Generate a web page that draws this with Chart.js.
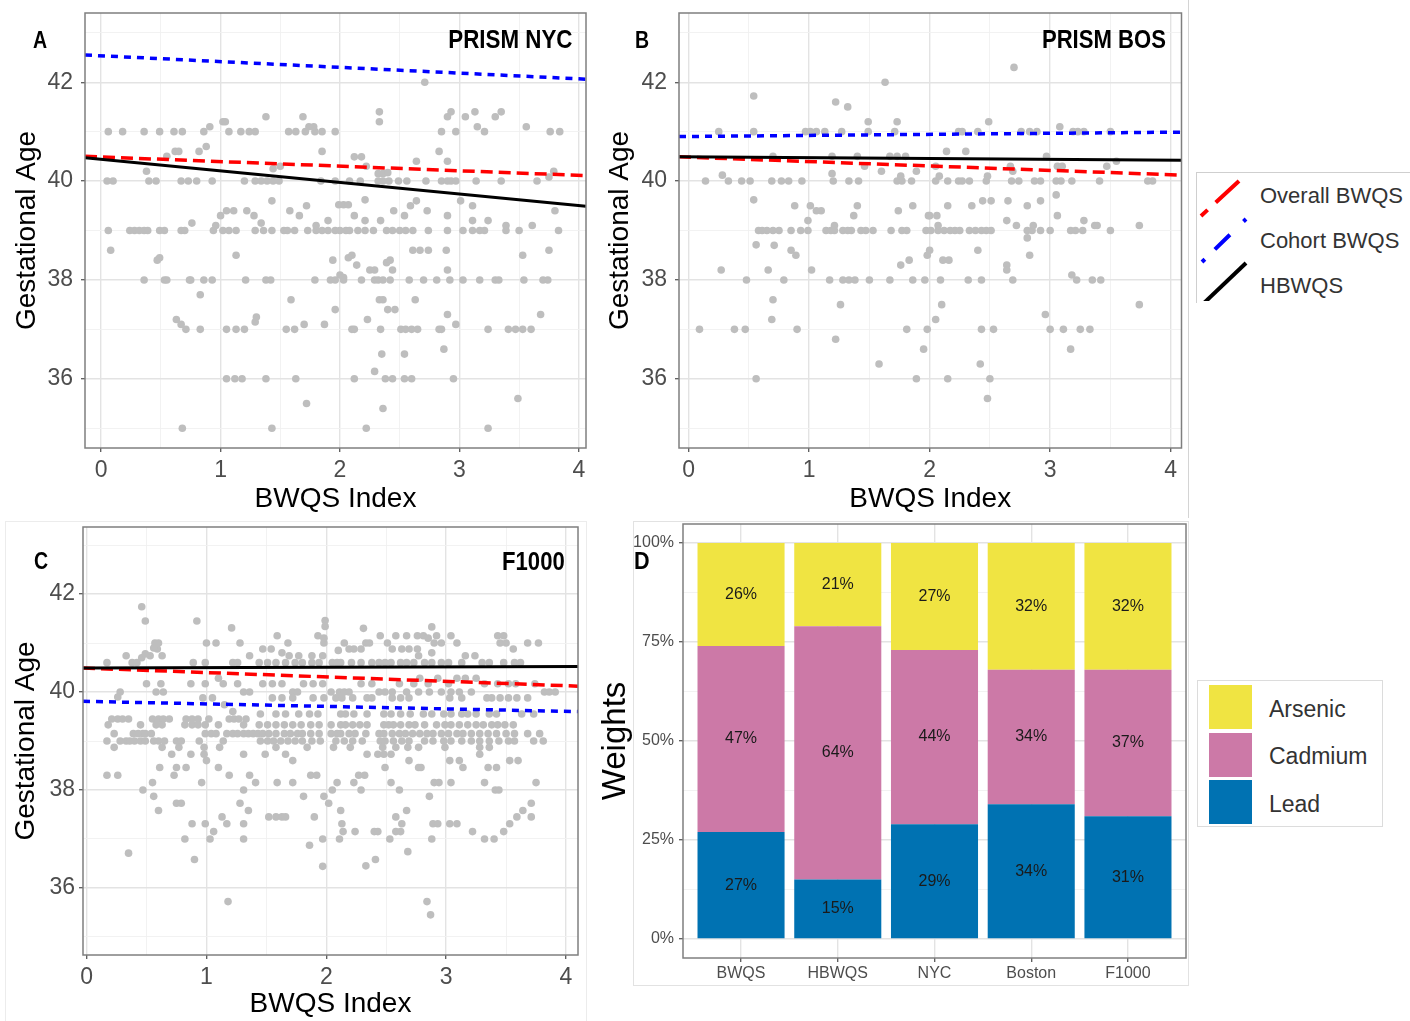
<!DOCTYPE html>
<html><head><meta charset="utf-8">
<script src="https://cdn.jsdelivr.net/npm/chart.js@4.4.1/dist/chart.umd.min.js"></script>
<style>
html,body{margin:0;padding:0;background:#fff;}
body{width:1410px;height:1021px;overflow:hidden;position:relative;font-family:'Liberation Sans',Arial,sans-serif;}
canvas{position:absolute;}
.t{position:absolute;white-space:nowrap;line-height:1;}
.bn{font-weight:bold;color:#000;}
.lg{position:absolute;color:#333;white-space:nowrap;line-height:1;}
</style></head><body>

<div style="position:absolute;left:1188px;top:0;width:1px;height:518px;background:#d4d4d4"></div>
<div style="position:absolute;left:5px;top:521px;width:580px;height:510px;border:1px solid #ececec;border-bottom:none"></div>
<div style="position:absolute;left:633px;top:521px;width:554px;height:463px;border:1px solid #e2e2e2"></div>

<canvas id="cA" width="590" height="520" style="left:0;top:0;width:590px;height:520px"></canvas>
<canvas id="cB" width="600" height="520" style="left:590px;top:0;width:600px;height:520px"></canvas>
<canvas id="cC" width="590" height="501" style="left:0;top:520px;width:590px;height:501px"></canvas>
<canvas id="cD" width="600" height="470" style="left:596px;top:521px;width:600px;height:470px"></canvas>

<div class="t bn" style="left:33px;top:29px;font-size:23px;transform:scaleX(0.85);transform-origin:left center">A</div>
<div class="t bn" style="right:838px;top:26px;font-size:26px;transform:scaleX(0.86);transform-origin:right center">PRISM NYC</div>
<div class="t bn" style="left:635px;top:29px;font-size:23px;transform:scaleX(0.85);transform-origin:left center">B</div>
<div class="t bn" style="right:244px;top:26px;font-size:26px;transform:scaleX(0.85);transform-origin:right center">PRISM BOS</div>
<div class="t bn" style="left:34px;top:550px;font-size:23px;transform:scaleX(0.85);transform-origin:left center">C</div>
<div class="t bn" style="right:845px;top:548px;font-size:26px;transform:scaleX(0.85);transform-origin:right center">F1000</div>
<div class="t bn" style="left:634px;top:549px;font-size:24px;transform:scaleX(0.9);transform-origin:left center">D</div>

<div style="position:absolute;left:1196px;top:172px;width:230px;height:130px;border-left:1px solid #cfcfcf;border-top:1px solid #cfcfcf;overflow:hidden">
<svg width="230" height="128" style="position:absolute;left:0;top:0">
<line x1="4" y1="43" x2="42" y2="8" stroke="#FF0000" stroke-width="4" stroke-dasharray="9 11 32 40"/>
<line x1="5" y1="89" x2="49" y2="46" stroke="#0000FF" stroke-width="4" stroke-dasharray="4 14 21 19 5 30"/>
<line x1="7" y1="130" x2="49" y2="90" stroke="#000000" stroke-width="4"/>
</svg>
</div>
<div class="lg" style="left:1260px;top:185px;font-size:22px">Overall BWQS</div>
<div class="lg" style="left:1260px;top:230px;font-size:22px">Cohort BWQS</div>
<div class="lg" style="left:1260px;top:275px;font-size:22px">HBWQS</div>

<div style="position:absolute;left:1197px;top:680px;width:184px;height:145px;border:1px solid #dcdcdc"></div>
<div style="position:absolute;left:1209px;top:685px;width:43px;height:44px;background:#F0E442"></div>
<div style="position:absolute;left:1209px;top:733px;width:43px;height:44px;background:#CC79A7"></div>
<div style="position:absolute;left:1209px;top:780px;width:43px;height:44px;background:#0072B2"></div>
<div class="lg" style="left:1269px;top:698px;font-size:23px">Arsenic</div>
<div class="lg" style="left:1269px;top:745px;font-size:23px">Cadmium</div>
<div class="lg" style="left:1269px;top:793px;font-size:23px">Lead</div>

<script>
// ---------------- DATA ----------------
const xTickValues = [0, 1, 2, 3, 4];
const xMinorTicks = [0.5, 1.5, 2.5, 3.5];
const gaTickValues = [36, 38, 40, 42];
const gaMinorTicks = [35, 37, 39, 41, 43];

// Panel A: PRISM NYC  (rows: [gestational age, [BWQS index values]])
const nycRows = [
  [41.0, [0.06,0.18,0.36,0.49,0.61,0.68,0.86,1.07,1.17,1.24,1.29,1.57,1.63,1.71,1.79,1.85,1.96,2.85,2.97,3.21,3.76,3.84]],
  [40.0, [0.05,0.1,0.4,0.46,0.67,0.73,0.8,0.93,1.2,1.29,1.34,1.39,1.44,1.49,1.84,1.96,2.08,2.17,2.32,2.36,2.41,2.49,2.56,2.72,2.85,2.90,2.93,2.97,3.14,3.35,3.65]],
  [39.0, [0.06,0.24,0.28,0.32,0.36,0.39,0.49,0.53,0.67,0.7,0.94,1.02,1.07,1.13,1.29,1.36,1.43,1.53,1.56,1.62,1.73,1.8,1.85,1.9,1.96,2.0,2.05,2.08,2.15,2.21,2.28,2.39,2.44,2.50,2.55,2.61,2.74,2.90,3.03,3.11,3.17,3.21,3.39,3.50,3.83]],
  [38.0, [0.36,0.53,0.55,0.74,0.75,0.86,0.93,1.21,1.38,1.42,1.79,1.92,1.96,2.03,2.18,2.29,2.32,2.36,2.42,2.58,2.70,2.81,2.92,3.03,3.17,3.30,3.33,3.54,3.70,3.74]],
  [37.0, [0.71,0.83,1.05,1.13,1.2,1.55,1.62,2.10,2.12,2.34,2.51,2.55,2.60,2.65,2.83,2.85,3.24,3.41,3.47,3.53,3.60]],
  [36.0, [1.05,1.12,1.18,1.38,1.63,2.12,2.38,2.44,2.54,2.60,2.95]],
  [35.0, [0.68,1.43,2.22,3.24]]
];
const nycSingles = [
  [0.91,41.1],[1.02,41.2],[1.04,41.2],[1.38,41.3],[1.69,41.3],[1.74,41.1],[1.78,41.1],[1.85,40.6],[0.62,40.6],[0.65,40.6],
  [0.82,40.6],[0.88,40.7],[0.55,40.5],[0.38,40.2],[1.44,40.25],[1.5,40.3],[2.71,42.0],[2.33,41.4],[2.33,41.2],[2.90,41.3],
  [2.93,41.4],[3.05,41.3],[3.13,41.4],[3.15,41.1],[3.30,41.3],[3.35,41.4],[3.56,41.1],[2.12,40.49],[2.18,40.49],[2.22,40.3],
  [2.32,40.15],[2.36,40.15],[2.40,40.17],[2.64,40.4],[2.83,40.6],[2.90,40.4],[3.79,40.2],[3.75,40.08],
  [1.43,39.6],[1.0,39.3],[1.05,39.4],[1.11,39.4],[1.22,39.4],[1.28,39.3],[1.34,39.15],[1.58,39.4],[1.66,39.3],[1.72,39.5],
  [0.76,39.15],[0.96,39.1],[1.8,39.1],[1.9,39.2],[1.99,39.52],[2.03,39.52],[2.07,39.52],[2.21,39.62],[2.45,39.4],[2.54,39.3],
  [2.59,39.5],[2.64,39.6],[2.73,39.4],[2.90,39.3],[3.01,39.6],[3.11,39.5],[3.11,39.2],[3.24,39.2],[3.80,39.4],[2.12,39.3],
  [2.21,39.2],[2.34,39.2],[3.39,39.1],[3.61,39.1],
  [0.08,38.6],[0.47,38.4],[0.49,38.45],[1.13,38.5],[2.61,38.6],[2.67,38.6],[2.74,38.6],[2.89,38.6],[3.53,38.5],[3.75,38.6],
  [1.94,38.4],[2.07,38.45],[2.10,38.5],[2.14,38.3],[2.25,38.2],[2.29,38.2],[2.39,38.35],[2.42,38.4],[2.44,38.2],[2.90,38.2],
  [2.0,38.1],[2.03,38.05],
  [0.83,37.7],[1.59,37.6],[1.96,37.4],[2.33,37.6],[2.36,37.6],[2.40,37.4],[2.46,37.4],[2.63,37.6],[2.90,37.3],[2.97,37.1],
  [2.23,37.2],[3.68,37.3],[0.63,37.2],[0.67,37.1],[1.29,37.15],[1.3,37.25],[1.7,37.1],[1.87,37.1],
  [2.87,36.6],[2.35,36.5],[2.54,36.5],[2.29,36.15],[1.72,35.5],[2.36,35.4],[3.49,35.6]
];
const nycOverall = [[-0.135, 40.50], [4.06, 40.11]];
const nycCohort  = [[-0.135, 42.55], [4.06, 42.06]];
const nycHbwqs   = [[-0.135, 40.47], [4.06, 39.49]];

// Panel B: PRISM BOS
const bosRows = [
  [41.0, [0.25,0.54,0.97,1.01,1.06,1.13,1.27,1.49,1.71,2.24,2.27,2.4,2.76,2.83,2.89,3.19,3.23,3.28,3.5]],
  [40.0, [0.14,0.33,0.44,0.51,0.69,0.77,0.83,0.94,1.2,1.33,1.41,1.73,1.77,1.85,2.05,2.15,2.24,2.27,2.33,2.47,2.68,2.74,2.87,2.92,3.05,3.09,3.18,3.41,3.81,3.85]],
  [39.0, [0.58,0.61,0.65,0.7,0.75,0.85,0.93,0.99,1.14,1.18,1.21,1.28,1.32,1.35,1.43,1.47,1.53,1.68,1.77,1.81,1.97,2.01,2.07,2.12,2.17,2.21,2.25,2.33,2.38,2.43,2.47,2.51,2.81,2.85,2.92,3.0,3.17,3.21,3.27,3.5]],
  [38.0, [0.48,0.79,1.17,1.28,1.33,1.38,1.5,1.67,1.86,1.96,2.09,2.32,2.43,2.69,3.22,3.35,3.42]],
  [37.0, [0.09,0.38,0.47,0.9,1.81,1.98,2.43,2.53,3.0,3.11,3.25,3.33]],
  [36.0, [0.56,1.89,2.15,2.5]]
];
const bosSingles = [
  [1.63,42.0],[0.54,41.72],[1.22,41.6],[1.32,41.5],[2.7,42.3],[2.49,41.2],[3.08,41.1],[1.49,41.2],[1.73,41.2],
  [0.7,40.5],[1.19,40.5],[1.4,40.5],[1.67,40.5],[1.73,40.5],[1.8,40.5],[1.46,40.3],[1.6,40.2],[1.89,40.2],[0.28,40.12],
  [1.19,40.15],[1.76,40.1],[2.14,40.6],[2.3,40.6],[2.05,40.3],[2.08,40.1],[2.67,40.3],[2.69,40.2],[2.97,40.5],[3.06,40.3],
  [3.1,40.3],[3.47,40.3],[3.55,40.4],[2.48,40.1],
  [0.54,39.62],[0.88,39.5],[1.01,39.5],[1.06,39.4],[1.1,39.4],[0.99,39.2],[1.37,39.3],[1.4,39.5],[1.74,39.4],[1.86,39.5],
  [1.99,39.3],[3.05,39.72],[2.15,39.5],[2.35,39.5],[2.44,39.6],[2.51,39.6],[2.65,39.6],[2.81,39.5],[2.92,39.6],[2.0,39.3],
  [2.06,39.3],[3.06,39.3],[2.64,39.2],[2.72,39.1],[2.86,39.1],[3.28,39.2],[3.37,39.1],[3.39,39.1],[3.74,39.1],[1.21,39.1],[2.07,39.1],
  [2.81,38.85],[0.56,38.71],[0.71,38.7],[0.85,38.6],[0.89,38.5],[0.27,38.2],[0.66,38.2],[1.02,38.2],[1.76,38.3],[1.83,38.4],
  [1.98,38.5],[2.4,38.6],[2.11,38.4],[2.16,38.4],[2.0,38.6],[2.83,38.5],[2.64,38.3],[2.64,38.2],[3.18,38.1],
  [0.7,37.6],[1.26,37.5],[0.69,37.2],[2.1,37.5],[3.74,37.5],[2.05,37.2],[2.96,37.3],
  [1.22,36.8],[1.58,36.3],[1.95,36.6],[3.17,36.6],[2.42,36.3],[2.48,35.6]
];
const bosOverall = [[-0.08, 40.49], [4.09, 40.12]];
const bosCohort  = [[-0.08, 40.90], [4.09, 40.99]];
const bosHbwqs   = [[-0.08, 40.49], [4.09, 40.42]];

// Panel C: F1000
const f1000Rows = [
  [41.0, [0.57,0.6,1.0,1.08,1.28,1.68,1.98,2.15,2.33,2.36,2.51,2.90,2.96,3.09,3.45,3.50,3.68,3.77]],
  [41.15, [1.59,1.93,2.45,2.58,2.67,2.76,2.81,2.92,3.04,3.43,3.48]],
  [40.88, [0.59,1.47,1.54,2.19,2.23,2.29,2.55,2.63,2.69,2.76,3.56]],
  [40.74, [0.33,0.53,0.63,1.36,1.69,1.77,1.88,1.97,2.77,3.16,3.24]],
  [40.6, [0.17,0.38,0.42,0.89,0.99,1.22,1.26,1.44,1.51,1.58,1.66,1.74,1.8,1.88,1.94,2.05,2.09,2.12,2.21,2.29,2.38,2.44,2.49,2.54,2.62,2.67,2.73,2.82,2.88,2.96,3.02,3.13,3.3,3.36,3.48,3.57,3.62]],
  [40.28, [1.1,2.78,2.93,3.09,3.16,3.25]],
  [40.17, [0.5,0.62,0.87,0.99,1.14,1.26,1.47,1.55,1.63,1.81,1.89,1.97,2.29,2.38,2.61,2.73,2.85,3.02,3.32,3.43,3.52,3.58,3.74]],
  [40.0, [0.28,0.58,0.64,1.31,1.36,1.72,1.76,2.04,2.11,2.15,2.19,2.44,2.49,2.55,2.67,2.77,2.86,2.96,3.04,3.11,3.21,3.82,3.86,3.91]],
  [39.88, [0.97,1.05,1.55,1.63,1.72,1.89,1.98,2.08,2.13,2.22,2.34,2.38,2.55,2.62,2.69,3.03,3.13,3.34,3.38,3.45,3.52,3.59,3.68]],
  [39.55, [1.45,1.58,1.66,1.77,1.86,1.93,2.12,2.16,2.23,2.34,2.48,2.54,2.62,2.70,2.81,2.88,2.98,3.04,3.13,3.18,3.25,3.36,3.42,3.63,3.73]],
  [39.45, [0.21,0.26,0.3,0.35,0.55,0.6,0.64,0.69,0.83,0.88,0.93,1.02,1.19,1.23,1.27,1.33]],
  [39.33, [0.18,0.45,0.58,0.63,0.82,0.88,0.93,0.99,1.1,1.31,1.44,1.51,1.58,1.65,1.72,1.79,1.87,1.94,2.04,2.12,2.16,2.22,2.28,2.34,2.48,2.52,2.56,2.62,2.69,2.74,2.82,2.92,2.99,3.04,3.11,3.18,3.25,3.31,3.38,3.43,3.49,3.56]],
  [39.15, [0.23,0.39,0.43,0.47,0.49,0.54,0.99,1.04,1.08,1.17,1.22,1.26,1.31,1.35,1.39,1.43,1.47,1.52,1.58,1.65,1.70,1.76,1.80,1.87,1.94,2.04,2.09,2.12,2.19,2.24,2.33,2.44,2.48,2.55,2.61,2.66,2.72,2.78,2.84,2.89,2.96,3.02,3.09,3.14,3.21,3.28,3.35,3.42,3.50,3.57,3.68,3.78]],
  [39.0, [0.17,0.28,0.33,0.36,0.4,0.45,0.49,0.56,0.6,0.65,0.75,0.79,0.94,1.14,1.45,1.51,1.56,1.62,1.68,1.74,1.80,1.88,1.95,2.08,2.15,2.22,2.30,2.45,2.49,2.56,2.63,2.69,2.82,2.89,2.98,3.04,3.13,3.21,3.28,3.36,3.44,3.52,3.57,3.73,3.81]],
  [38.87, [0.23,0.63,0.77,0.98,1.11,1.58,1.84,2.06,2.20,2.47,2.58,2.68,2.77,2.99,3.28,3.36]],
  [38.73, [0.71,0.87,0.98,1.31,1.49,1.66,2.34,2.43,2.48,2.54,3.28]],
  [38.6, [1.0,1.72,2.69,3.03,3.11,3.53,3.60]],
  [38.46, [0.61,0.75,0.83,1.1,2.49,2.77,2.79,3.14,3.35,3.42]],
  [38.3, [0.17,0.26,0.73,1.19,1.36,1.87,1.92,2.27,2.32]],
  [38.15, [0.55,0.96,1.41,1.59,1.72,2.09,2.23,2.54,2.90,2.94,3.04,3.32,3.75]],
  [38.0, [0.47,1.31,2.05,2.29,2.61,3.41,3.44]],
  [37.87, [0.56,1.81,1.98,2.86]],
  [37.73, [0.75,0.79,1.28,2.02,3.71]],
  [37.58, [0.6,1.35,2.12,2.67,3.64]],
  [37.45, [1.13,1.52,1.58,1.63,1.66,1.90,2.58,3.59,3.71]],
  [37.31, [0.88,0.99,1.17,1.31,2.13,2.63,2.89,2.93,3.03,3.09,3.53]],
  [37.15, [1.06,2.14,2.24,2.40,2.43,2.58,2.62,3.22,3.48]],
  [37.0, [0.82,1.03,1.31,1.97,2.11,2.53,2.88,3.32,3.40]]
];
const f1000Singles = [
  [0.46,41.74],[0.49,41.45],[0.92,41.45],[1.21,41.31],[1.99,41.46],[1.99,41.34],[2.31,41.3],[2.88,41.33],[1.98,41.1],[2.85,41.1],
  [0.56,40.9],[0.46,40.7],[0.49,40.78],[2.1,40.85],[1.63,40.8],[2.88,40.8],[0.26,39.9],[1.15,39.74],[1.22,39.6],
  [1.86,36.87],[2.68,36.74],[2.41,36.58],[2.33,36.45],[1.97,36.44],[0.35,36.71],[0.9,36.58],[1.18,35.72],[2.84,35.72],[2.87,35.45]
];
const f1000Overall = [[-0.03, 40.49], [4.10, 40.12]];
const f1000Cohort  = [[-0.03, 39.81], [4.10, 39.60]];
const f1000Hbwqs   = [[-0.03, 40.49], [4.10, 40.52]];

// Panel D: weights (%)
const weightGroups   = ['BWQS', 'HBWQS', 'NYC', 'Boston', 'F1000'];
const leadWeights    = [27, 15, 29, 34, 31];
const cadmiumWeights = [47, 64, 44, 34, 37];
const arsenicWeights = [26, 21, 27, 32, 32];
const weightTicks    = [0, 25, 50, 75, 100];
const weightMinor    = [12.5, 37.5, 62.5, 87.5];

// ---------------- DRAWING ----------------
const FONT = "'Liberation Sans', Arial, sans-serif";
const MAJOR = '#E3E3E3', MINOR = '#F1F1F1', FRAME = '#7F7F7F', TICKC = '#5A5A5A';

function buildPoints(rows, singles) {
  const out = [];
  rows.forEach(r => r[1].forEach(x => out.push({x: x, y: r[0]})));
  singles.forEach(p => out.push({x: p[0], y: p[1]}));
  return out;
}
const toXY = a => a.map(p => ({x: p[0], y: p[1]}));

const framePlugin = {
  id: 'frame',
  afterDatasetsDraw(chart) {
    const {ctx, chartArea: a} = chart;
    ctx.save();
    ctx.strokeStyle = FRAME; ctx.lineWidth = 1.5;
    ctx.strokeRect(a.left, a.top, a.right - a.left, a.bottom - a.top);
    ctx.restore();
  }
};

function gaChart(id, c) {
  const isMajX = v => xTickValues.includes(v);
  const isMajY = v => gaTickValues.includes(v);
  return new Chart(document.getElementById(id), {
    type: 'scatter',
    data: { datasets: [
      {type: 'line', data: toXY(c.hb), borderColor: '#000000', borderWidth: 3, pointRadius: 0, order: 1},
      {type: 'line', data: toXY(c.overall), borderColor: '#FF0000', borderWidth: 3.5, borderDash: [12, 6], pointRadius: 0, order: 2},
      {type: 'line', data: toXY(c.cohort), borderColor: '#0000FF', borderWidth: 3.5, borderDash: [7, 6], pointRadius: 0, order: 3},
      {type: 'scatter', data: c.pts, backgroundColor: '#BEBEBE', borderWidth: 0, pointRadius: 3.8, order: 10}
    ]},
    options: {
      responsive: false, animation: false, devicePixelRatio: 1,
      layout: {padding: {left: 0, top: c.area.top, right: c.w - c.area.right, bottom: 0}},
      plugins: {legend: {display: false}, tooltip: {enabled: false}},
      scales: {
        x: {
          type: 'linear', min: c.xr[0], max: c.xr[1],
          afterBuildTicks: s => { s.ticks = xTickValues.concat(xMinorTicks).sort((a, b) => a - b).map(v => ({value: v})); },
          afterFit: s => { s.height = c.h - c.area.bottom; s.paddingLeft = 0; s.paddingRight = 0; },
          ticks: {autoSkip: false, maxRotation: 0, minRotation: 0, padding: c.xTickPad, color: '#4D4D4D',
                  font: {family: FONT, size: 23}, callback: v => isMajX(v) ? String(v) : ''},
          grid: {color: x => isMajX(x.tick.value) ? MAJOR : MINOR, lineWidth: x => isMajX(x.tick.value) ? 1.4 : 0.9,
                 tickLength: 4, tickWidth: 1.3, tickColor: x => isMajX(x.tick.value) ? TICKC : 'rgba(0,0,0,0)'},
          border: {display: false},
          title: {display: true, text: 'BWQS Index', color: '#000', font: {family: FONT, size: 28}, padding: {top: 0, bottom: c.xTitlePad}}
        },
        y: {
          type: 'linear', min: c.yr[0], max: c.yr[1],
          afterBuildTicks: s => { s.ticks = gaTickValues.concat(gaMinorTicks).sort((a, b) => a - b).map(v => ({value: v})); },
          afterFit: s => { s.width = c.area.left; s.paddingTop = 0; s.paddingBottom = 0; },
          ticks: {autoSkip: false, padding: c.yTickPad, color: '#4D4D4D', font: {family: FONT, size: 23},
                  callback: v => isMajY(v) ? String(v) : ''},
          grid: {color: x => isMajY(x.tick.value) ? MAJOR : MINOR, lineWidth: x => isMajY(x.tick.value) ? 1.4 : 0.9,
                 tickLength: 4, tickWidth: 1.3, tickColor: x => isMajY(x.tick.value) ? TICKC : 'rgba(0,0,0,0)'},
          border: {display: false},
          title: {display: true, text: 'Gestational Age', color: '#000', font: {family: FONT, size: 28}, padding: {top: c.yTitlePad, bottom: 0}}
        }
      }
    },
    plugins: [framePlugin]
  });
}

gaChart('cA', {w: 590, h: 520, area: {left: 85, right: 588, top: 13, bottom: 448},
  xr: [-0.135, 4.06], yr: [34.6, 43.4], pts: buildPoints(nycRows, nycSingles),
  overall: nycOverall, cohort: nycCohort, hb: nycHbwqs, yTickPad: 8, yTitlePad: 10, xTickPad: 5, xTitlePad: 4});

gaChart('cB', {w: 600, h: 520, area: {left: 89, right: 591.5, top: 13, bottom: 448},
  xr: [-0.08, 4.09], yr: [34.6, 43.4], pts: buildPoints(bosRows, bosSingles),
  overall: bosOverall, cohort: bosCohort, hb: bosHbwqs, yTickPad: 8, yTitlePad: 13, xTickPad: 5, xTitlePad: 4});

gaChart('cC', {w: 590, h: 501, area: {left: 83, right: 578, top: 7, bottom: 435},
  xr: [-0.03, 4.10], yr: [34.63, 43.37], pts: buildPoints(f1000Rows, f1000Singles),
  overall: f1000Overall, cohort: f1000Cohort, hb: f1000Hbwqs, yTickPad: 4, yTitlePad: 9, xTickPad: 5, xTitlePad: 0});

// Panel D
const barLabelPlugin = {
  id: 'barLabels',
  afterDatasetsDraw(chart) {
    const ctx = chart.ctx;
    ctx.save();
    ctx.font = '16px ' + FONT; ctx.fillStyle = '#1A1A1A';
    ctx.textAlign = 'center'; ctx.textBaseline = 'middle';
    chart.data.datasets.forEach((ds, i) => {
      chart.getDatasetMeta(i).data.forEach((bar, j) => {
        const p = bar.getProps(['x', 'y', 'base'], true);
        ctx.fillText(ds.data[j].y + '%', p.x, (p.y + p.base) / 2);
      });
    });
    ctx.restore();
  }
};
const dArea = {left: 87, right: 590, top: 3, bottom: 437, w: 600, h: 470};
const isMajW = v => weightTicks.includes(v);
new Chart(document.getElementById('cD'), {
  type: 'bar',
  data: { datasets: [
    {label: 'Lead', data: weightGroups.map((g, i) => ({x: i + 1, y: leadWeights[i]})), backgroundColor: '#0072B2'},
    {label: 'Cadmium', data: weightGroups.map((g, i) => ({x: i + 1, y: cadmiumWeights[i]})), backgroundColor: '#CC79A7'},
    {label: 'Arsenic', data: weightGroups.map((g, i) => ({x: i + 1, y: arsenicWeights[i]})), backgroundColor: '#F0E442'}
  ]},
  options: {
    responsive: false, animation: false, devicePixelRatio: 1,
    barPercentage: 0.9, categoryPercentage: 1.0,
    layout: {padding: {left: 0, top: dArea.top, right: dArea.w - dArea.right, bottom: 0}},
    plugins: {legend: {display: false}, tooltip: {enabled: false}},
    scales: {
      x: {
        type: 'linear', stacked: true, min: 0.4, max: 5.6, offset: false,
        afterBuildTicks: s => { s.ticks = weightGroups.map((g, i) => ({value: i + 1})); },
        afterFit: s => { s.height = dArea.h - dArea.bottom; s.paddingLeft = 0; s.paddingRight = 0; },
        ticks: {autoSkip: false, maxRotation: 0, padding: 2, color: '#4D4D4D', font: {family: FONT, size: 16},
                callback: v => weightGroups[Math.round(v) - 1]},
        grid: {offset: false, color: MAJOR, lineWidth: 1.4, tickLength: 4, tickWidth: 1.3, tickColor: TICKC},
        border: {display: false}
      },
      y: {
        type: 'linear', stacked: true, min: -4.8, max: 104.8,
        afterBuildTicks: s => { s.ticks = weightTicks.concat(weightMinor).sort((a, b) => a - b).map(v => ({value: v})); },
        afterFit: s => { s.width = dArea.left; s.paddingTop = 0; s.paddingBottom = 0; },
        ticks: {autoSkip: false, padding: 5, color: '#4D4D4D', font: {family: FONT, size: 16},
                callback: v => isMajW(v) ? v + '%' : ''},
        grid: {color: x => isMajW(x.tick.value) ? MAJOR : MINOR, lineWidth: x => isMajW(x.tick.value) ? 1.4 : 0.9,
               tickLength: 4, tickWidth: 1.3, tickColor: x => isMajW(x.tick.value) ? TICKC : 'rgba(0,0,0,0)'},
        border: {display: false},
        title: {display: true, text: 'Weights', color: '#000', font: {family: FONT, size: 33}, padding: {top: 0, bottom: 0}}
      }
    }
  },
  plugins: [framePlugin, barLabelPlugin]
});
</script>
</body></html>
